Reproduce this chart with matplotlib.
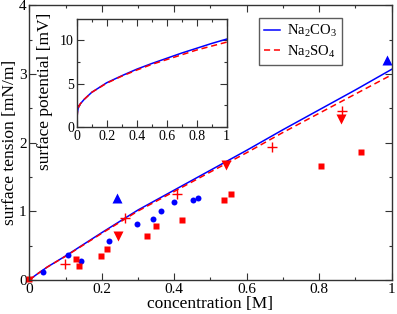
import matplotlib
matplotlib.use('Agg')
import matplotlib.pyplot as plt
from matplotlib.ticker import MultipleLocator
import numpy as np

plt.rcParams['font.family'] = ['Liberation Serif', 'DejaVu Serif']
plt.rcParams['mathtext.fontset'] = 'custom'
plt.rcParams['mathtext.rm'] = 'Liberation Serif'
plt.rcParams['mathtext.it'] = 'Liberation Serif:italic'

#========================================================================================================================
# DATA
#========================================================================================================================

# model curves, main panel
conc_line = [0, 0.02, 0.05, 0.1, 0.2, 0.3, 0.4, 0.5, 0.6, 0.7, 0.8, 0.9, 1.0]
tension_co3 = [0, 0.08, 0.19, 0.35, 0.69, 1.02, 1.31, 1.60, 1.89, 2.19, 2.48, 2.77, 3.07]
tension_so4 = [0, 0.08, 0.19, 0.345, 0.68, 1.005, 1.29, 1.575, 1.855, 2.15, 2.43, 2.71, 2.99]

# experimental points
circ_c = [0.037, 0.108, 0.143, 0.219, 0.297, 0.34, 0.364, 0.398, 0.451, 0.466]
circ_v = [0.11, 0.36, 0.27, 0.57, 0.82, 0.89, 1.00, 1.13, 1.16, 1.20]

sq_c = [0.0, 0.129, 0.138, 0.199, 0.214, 0.324, 0.35, 0.422, 0.537, 0.557, 0.806, 0.915]
sq_v = [0.01, 0.30, 0.20, 0.35, 0.45, 0.64, 0.78, 0.88, 1.16, 1.25, 1.66, 1.87]

tri_up_c = [0.243, 0.988]
tri_up_v = [1.20, 3.20]

tri_dn_c = [0.245, 0.542, 0.86]
tri_dn_v = [0.64, 1.68, 2.34]

plus_c = [0.098, 0.264, 0.407, 0.671, 0.864]
plus_v = [0.23, 0.90, 1.25, 1.94, 2.46]

# inset: surface potential
conc_inset = [0, 0.002, 0.005, 0.01, 0.02, 0.05, 0.1, 0.2, 0.3, 0.4, 0.5, 0.6, 0.7, 0.8, 0.9, 1.0]
pot_co3 = [0, 1.0, 1.7, 2.2, 2.6, 3.2, 4.0, 5.1, 5.9, 6.65, 7.3, 7.9, 8.5, 9.05, 9.6, 10.1]
pot_so4 = [0, 1.0, 1.7, 2.2, 2.6, 3.2, 4.0, 5.05, 5.85, 6.55, 7.2, 7.75, 8.3, 8.85, 9.3, 9.75]

#========================================================================================================================
# PLOT
#========================================================================================================================

blue = '#0000ff'
red = '#ff0000'
frame = '#333333'
tick_labels = ['0', '0.2', '0.4', '0.6', '0.8', '1']

fig = plt.figure(figsize=(3.97, 3.14), dpi=100)
ax = fig.add_axes([0.0738, 0.1083, 0.9128, 0.8742])


def style_axes(a, fs):
    for s in a.spines.values():
        s.set_color(frame)
        s.set_linewidth(1.0)
    a.tick_params(which='both', direction='in', top=True, right=True, colors=frame,
                  labelcolor='black', labelsize=fs, pad=2)
    a.tick_params(which='major', length=5, width=0.8)
    a.tick_params(which='minor', length=2.5, width=0.8)


ax.plot(conc_line, tension_co3, color=blue, lw=1.1, label=r'Na$_2$CO$_3$')
ax.plot(conc_line, tension_so4, color=red, lw=1.1, ls=(0, (4, 2.5)), label=r'Na$_2$SO$_4$')

ax.plot(circ_c, circ_v, 'o', color=blue, ms=4.3, mec='none', clip_on=False)
ax.plot(sq_c, sq_v, 's', color=red, ms=3.8, mec='none', clip_on=False)
ax.plot(tri_up_c, tri_up_v, '^', color=blue, ms=6.5, mec='none')
ax.plot(tri_dn_c, tri_dn_v, 'v', color=red, ms=6.5, mec='none')
ax.plot(plus_c, plus_v, '+', color=red, ms=7, mew=1.0)

ax.set_xlim(0, 1)
ax.set_ylim(0, 4)
ax.set_xticks([0, 0.2, 0.4, 0.6, 0.8, 1.0])
ax.set_xticklabels(tick_labels)
ax.xaxis.set_minor_locator(MultipleLocator(0.1))
ax.yaxis.set_major_locator(MultipleLocator(1))
ax.yaxis.set_minor_locator(MultipleLocator(0.5))
style_axes(ax, 11)
ax.set_xlabel('concentration [M]', fontsize=12.5, labelpad=0)
ax.set_ylabel('surface tension [mN/m]', fontsize=12.5, labelpad=1)

leg = ax.legend(loc='upper left', bbox_to_anchor=(0.633, 0.955), fontsize=10.5, frameon=True,
                fancybox=False, handlelength=1.1, handletextpad=0.5, borderpad=0.35,
                labelspacing=0.3, borderaxespad=0)
leg.get_frame().set_edgecolor(frame)
leg.get_frame().set_linewidth(1.0)

# inset
axi = fig.add_axes([0.1932, 0.5946, 0.3778, 0.3449])
axi.plot(conc_inset, pot_co3, color=blue, lw=1.1)
axi.plot(conc_inset, pot_so4, color=red, lw=1.1, ls=(0, (4, 2.5)))
axi.set_xlim(0, 1)
axi.set_ylim(0, 12.4)
axi.set_xticks([0, 0.2, 0.4, 0.6, 0.8, 1.0])
axi.set_xticklabels(tick_labels)
axi.xaxis.set_minor_locator(MultipleLocator(0.1))
axi.yaxis.set_major_locator(MultipleLocator(5))
axi.yaxis.set_minor_locator(MultipleLocator(2.5))
style_axes(axi, 10)
axi.set_ylabel('surface potential [mV]', fontsize=12.5)
axi.yaxis.set_label_coords(-0.16, 0.33)

fig.savefig('out.png', dpi=100)
